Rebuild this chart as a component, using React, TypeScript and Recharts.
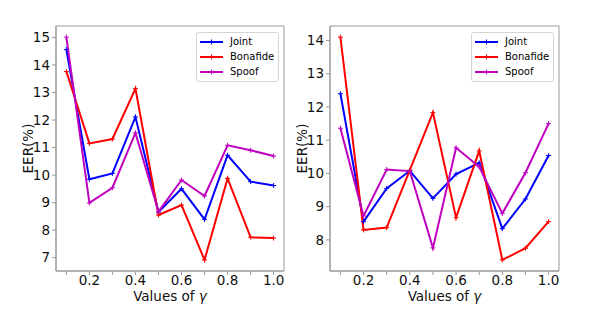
import React from 'react';
import { LineChart, Line, XAxis, YAxis, ReferenceArea } from 'recharts';

const gammas = [0.1, 0.2, 0.3, 0.4, 0.5, 0.6, 0.7, 0.8, 0.9, 1.0];
const xTickMarks = [0.1, 0.2, 0.3, 0.4, 0.5, 0.6, 0.7, 0.8, 0.9, 1.0];
const xTickLabels = ['0.2', '0.4', '0.6', '0.8', '1.0'];

const leftJoint = [14.56, 9.85, 10.06, 12.11, 8.66, 9.5, 8.39, 10.72, 9.76, 9.62];
const leftBonafide = [13.76, 11.15, 11.31, 13.14, 8.55, 8.91, 6.92, 9.88, 7.74, 7.71];
const leftSpoof = [15.01, 8.99, 9.54, 11.53, 8.67, 9.82, 9.24, 11.08, 10.9, 10.69];
const leftYTicks = [7, 8, 9, 10, 11, 12, 13, 14, 15];

const rightJoint = [12.4, 8.55, 9.55, 10.08, 9.25, 9.98, 10.32, 8.34, 9.23, 10.54];
const rightBonafide = [14.1, 8.3, 8.37, 10.1, 11.83, 8.67, 10.68, 7.4, 7.75, 8.55];
const rightSpoof = [11.36, 8.72, 10.12, 10.07, 7.76, 10.77, 10.2, 8.8, 10.02, 11.5];
const rightYTicks = [8, 9, 10, 11, 12, 13, 14];

const seriesNames = ['Joint', 'Bonafide', 'Spoof'];
const seriesColors = ['#0000ff', '#ff0000', '#bf00bf'];

const FONT = '"DejaVu Sans", sans-serif';
const FRAME = '#999999';
const TEXT = '#111111';
const FS = 13.5;
const X_DOMAIN: [number, number] = [0.055, 1.045];

function build(j: number[], b: number[], s: number[]) {
  return gammas.map((g, i) => ({ g, Joint: j[i], Bonafide: b[i], Spoof: s[i] }));
}

function domainWithMargin(vals: number[]): [number, number] {
  const mn = Math.min(...vals);
  const mx = Math.max(...vals);
  const m = (mx - mn) * 0.05;
  return [mn - m, mx + m];
}

const fmtX = (v: number) => {
  const s = v.toFixed(1);
  return xTickLabels.includes(s) ? s : '';
};

const plusDot = (color: string) => (props: any) => {
  const { cx, cy, index } = props;
  if (cx == null || cy == null) return <g key={index} />;
  return (
    <path
      key={index}
      d={`M${cx - 2.5},${cy}h5M${cx},${cy - 2.5}v5`}
      stroke={color}
      strokeWidth={1}
      fill="none"
    />
  );
};

const LegendBox = ({ left }: { left: number }) => (
  <div
    style={{
      position: 'absolute',
      left,
      top: 32,
      border: '1px solid #d6d6d6',
      borderRadius: 3,
      background: 'rgba(255,255,255,0.8)',
      padding: '1px 3px 2px 3px',
      fontFamily: FONT,
      fontSize: 10,
      lineHeight: '15px',
      color: '#000',
      boxSizing: 'border-box',
      width: 83,
    }}
  >
    {seriesNames.map((n, i) => (
      <div key={n} style={{ display: 'flex', alignItems: 'center', height: 15 }}>
        <svg width={24} height={8} style={{ marginRight: 6 }}>
          <line x1={0} y1={4} x2={23} y2={4} stroke={seriesColors[i]} strokeWidth={2} />
          <path d="M11.5,1.5v5" stroke={seriesColors[i]} strokeWidth={1} />
        </svg>
        <span>{n}</span>
      </div>
    ))}
  </div>
);

type PanelProps = {
  left: number;
  width: number;
  marginLeft: number;
  marginRight: number;
  data: any[];
  yDomain: [number, number];
  yTicks: number[];
  legendLeft: number;
};

const Panel = ({ left, width, marginLeft, marginRight, data, yDomain, yTicks, legendLeft }: PanelProps) => (
  <div style={{ position: 'absolute', left, top: 0, width, height: 312 }}>
    <LineChart
      width={width}
      height={312}
      data={data}
      margin={{ top: 26, right: marginRight, bottom: 11, left: marginLeft }}
    >
      <XAxis
        dataKey="g"
        type="number"
        domain={X_DOMAIN}
        ticks={xTickMarks}
        interval={0}
        allowDataOverflow
        tickFormatter={fmtX}
        stroke={FRAME}
        tickSize={4}
        tickMargin={0}
        height={30}
        tick={{ fill: TEXT, fontSize: FS, fontFamily: FONT }}
        label={(p: any) => {
          const vb = p.viewBox || {};
          return (
            <text
              x={vb.x + vb.width / 2}
              y={300.5}
              textAnchor="middle"
              fontSize={FS}
              fontFamily={FONT}
              fill={TEXT}
            >
              <tspan>Values of </tspan>
              <tspan fontStyle="italic">γ</tspan>
            </text>
          );
        }}
      />
      <YAxis
        type="number"
        domain={yDomain}
        ticks={yTicks}
        interval={0}
        allowDataOverflow
        stroke={FRAME}
        tickSize={4}
        tickMargin={2}
        width={40}
        tick={{ fill: TEXT, fontSize: FS, fontFamily: FONT }}
        label={(p: any) => {
          const vb = p.viewBox || {};
          const cx = vb.x + 40 - 23;
          const cy = vb.y + vb.height / 2;
          return (
            <text
              x={cx}
              y={cy}
              transform={`rotate(-90, ${cx}, ${cy})`}
              textAnchor="middle"
              fontSize={FS}
              fontFamily={FONT}
              fill={TEXT}
            >
              EER(%)
            </text>
          );
        }}
      />
      <ReferenceArea
        x1={X_DOMAIN[0]}
        x2={X_DOMAIN[1]}
        y1={yDomain[0]}
        y2={yDomain[1]}
        fill="none"
        fillOpacity={0}
        stroke={FRAME}
        strokeWidth={1}
        ifOverflow="visible"
      />
      {seriesNames.map((n, i) => (
        <Line
          key={n}
          dataKey={n}
          stroke={seriesColors[i]}
          strokeWidth={2}
          dot={plusDot(seriesColors[i])}
          activeDot={false}
          isAnimationActive={false}
        />
      ))}
    </LineChart>
    <LegendBox left={legendLeft} />
  </div>
);

export default function App() {
  const leftData = build(leftJoint, leftBonafide, leftSpoof);
  const rightData = build(rightJoint, rightBonafide, rightSpoof);
  const leftDomain = domainWithMargin([...leftJoint, ...leftBonafide, ...leftSpoof]);
  const rightDomain = domainWithMargin([...rightJoint, ...rightBonafide, ...rightSpoof]);
  return (
    <div style={{ position: 'absolute', left: 0, top: 0, width: 598, height: 312, background: '#fff' }}>
      <Panel
        left={0}
        width={300}
        marginLeft={16}
        marginRight={16}
        data={leftData}
        yDomain={leftDomain}
        yTicks={leftYTicks}
        legendLeft={196}
      />
      <Panel
        left={280}
        width={318}
        marginLeft={10}
        marginRight={39}
        data={rightData}
        yDomain={rightDomain}
        yTicks={rightYTicks}
        legendLeft={191}
      />
    </div>
  );
}
